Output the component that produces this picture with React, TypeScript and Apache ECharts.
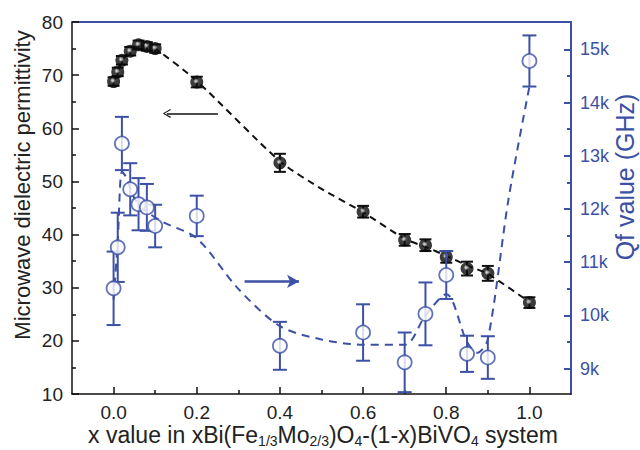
import React, { useEffect, useRef } from 'react';
import * as echarts from 'echarts';

const FONT = "'Liberation Sans', Arial, Helvetica, sans-serif";
const BLUE = '#3c50a5';
const BLACK = '#111111';

// Permittivity (left axis)
const xPerm = [0, 0.01, 0.02, 0.04, 0.06, 0.08, 0.1, 0.2, 0.4, 0.6, 0.7, 0.75, 0.8, 0.85, 0.9, 1.0];
const perm = [68.8, 70.6, 72.8, 74.5, 75.7, 75.4, 75.0, 68.7, 53.5, 44.3, 39.0, 38.0, 35.8, 33.6, 32.7, 27.2];
const permErr = [0.8, 0.8, 0.8, 0.8, 0.8, 0.8, 0.8, 1.0, 1.7, 1.1, 1.1, 1.1, 1.1, 1.3, 1.4, 1.0];

// Qf values (right axis)
const xQf = [0, 0.01, 0.02, 0.04, 0.06, 0.08, 0.1, 0.2, 0.4, 0.6, 0.7, 0.75, 0.8, 0.85, 0.9, 1.0];
const qf = [10510, 11280, 13230, 12370, 12090, 12030, 11680, 11870, 9430, 9680, 9120, 10030, 10760, 9280, 9210, 14780];
const qfErr = [690, 650, 500, 490, 490, 440, 400, 380, 450, 530, 560, 590, 450, 340, 400, 480];

// Dashed guide curves
const permFitX = [0, 0.01, 0.02, 0.04, 0.06, 0.08, 0.1, 0.2, 0.4, 0.5, 0.6, 0.7, 0.75, 0.8, 0.85, 0.9, 1.0];
const permFit = [68.8, 70.6, 72.7, 74.5, 75.4, 75.5, 75.0, 68.9, 53.8, 48.6, 44.2, 39.2, 37.7, 36.0, 34.2, 32.6, 27.3];
const qfFitX = [0, 0.01, 0.02, 0.03, 0.05, 0.08, 0.12, 0.2, 0.3, 0.4, 0.5, 0.6, 0.7, 0.75, 0.8, 0.85, 0.875, 0.9, 0.95, 1.0];
const qfFit = [10300, 11400, 12700, 12600, 12200, 11950, 11750, 11450, 10500, 9800, 9550, 9450, 9450, 10000, 10400, 9500, 9300, 9550, 12200, 14300];

// Ticks
const xTicks = [0, 0.2, 0.4, 0.6, 0.8, 1.0];
const xMinor = [0.1, 0.3, 0.5, 0.7, 0.9];
const qfTicks = [9000, 10000, 11000, 12000, 13000, 14000, 15000];
const qfMinor = [9500, 10500, 11500, 12500, 13500, 14500];

// Arrows
const blackArrow = { x1: 0.251, x2: 0.128, y: 62.8 };
const blueArrow = { x1: 0.315, x2: 0.446, y: 10640 };

const CHEVRON = 'path://M5,0 L10,10 L8.8,10.6 L5,2.4 L1.2,10.6 L0,10 Z';

function errRender(cap: number, color: string, width: number) {
  return (_params: any, api: any) => {
    const x = api.value(0);
    const lo = api.coord([x, api.value(1)]);
    const hi = api.coord([x, api.value(2)]);
    const st = { stroke: color, lineWidth: width };
    return {
      type: 'group',
      children: [
        { type: 'line', shape: { x1: lo[0], y1: lo[1], x2: hi[0], y2: hi[1] }, style: st },
        { type: 'line', shape: { x1: lo[0] - cap, y1: lo[1], x2: lo[0] + cap, y2: lo[1] }, style: st },
        { type: 'line', shape: { x1: hi[0] - cap, y1: hi[1], x2: hi[0] + cap, y2: hi[1] }, style: st },
      ],
    };
  };
}

export default function App() {
  const ref = useRef<HTMLDivElement>(null);
  useEffect(() => {
    if (!ref.current) return;
    const chart = echarts.init(ref.current, null, { renderer: 'svg' });
    const sphere = new echarts.graphic.RadialGradient(0.45, 0.42, 0.6, [
      { offset: 0, color: '#ffffff' },
      { offset: 0.15, color: '#bbbbbb' },
      { offset: 0.35, color: '#111111' },
      { offset: 1, color: '#000000' },
    ]);
    const noZero = { onZero: false };
    const option: any = {
      animation: false,
      backgroundColor: '#ffffff',
      grid: { left: 72, right: 69, top: 22, bottom: 56 },
      xAxis: [
        {
          type: 'value', min: -0.1, max: 1.1, position: 'bottom',
          axisLine: { show: true, ...noZero, lineStyle: { color: BLACK, width: 1.5 } },
          axisTick: { show: true, inside: true, length: 7, customValues: xTicks, lineStyle: { color: BLACK, width: 1.5 } },
          axisLabel: { customValues: xTicks, formatter: (v: number) => v.toFixed(1), fontSize: 19, color: '#222', margin: 9, fontFamily: FONT },
          splitLine: { show: false },
        },
        {
          type: 'value', min: -0.1, max: 1.1, position: 'bottom',
          axisLine: { show: false, ...noZero },
          axisTick: { show: true, inside: true, length: 4, customValues: xMinor, lineStyle: { color: BLACK, width: 1.5 } },
          axisLabel: { show: false },
          splitLine: { show: false },
        },
        {
          type: 'value', min: -0.1, max: 1.1, position: 'top',
          axisLine: { show: true, ...noZero, lineStyle: { color: BLUE, width: 2 } },
          axisTick: { show: false }, axisLabel: { show: false }, splitLine: { show: false },
        },
      ],
      yAxis: [
        {
          type: 'value', min: 10, max: 80, interval: 10, position: 'left',
          axisLine: { show: true, ...noZero, lineStyle: { color: BLACK, width: 1.5 } },
          axisTick: { show: true, inside: true, length: 7, lineStyle: { color: BLACK, width: 1.5 } },
          minorTick: { show: true, splitNumber: 2, length: 4, lineStyle: { color: BLACK, width: 1.5 } },
          axisLabel: { fontSize: 19, color: '#222', margin: 9, fontFamily: FONT },
          splitLine: { show: false },
        },
        {
          type: 'value', min: 8525, max: 15512, position: 'right',
          axisLine: { show: true, ...noZero, lineStyle: { color: BLUE, width: 2 } },
          axisTick: { show: true, inside: true, length: 7, customValues: qfTicks, lineStyle: { color: BLUE, width: 2 } },
          axisLabel: { customValues: qfTicks, formatter: (v: number) => v / 1000 + 'k', fontSize: 18, color: BLUE, margin: 9, fontFamily: FONT },
          splitLine: { show: false },
        },
        {
          type: 'value', min: 8525, max: 15512, position: 'right',
          axisLine: { show: false, ...noZero },
          axisTick: { show: true, inside: true, length: 4, customValues: qfMinor, lineStyle: { color: BLUE, width: 2 } },
          axisLabel: { show: false }, splitLine: { show: false },
        },
      ],
      graphic: [
        {
          type: 'text', x: 22, y: 185, rotation: Math.PI / 2,
          style: { text: 'Microwave dielectric permittivity', fontSize: 22, fill: '#222', fontFamily: FONT, align: 'center', verticalAlign: 'middle' },
        },
        {
          type: 'text', x: 625, y: 177, rotation: Math.PI / 2,
          style: { text: 'Qf value (GHz)', fontSize: 25, fill: BLUE, fontFamily: FONT, align: 'center', verticalAlign: 'middle' },
        },
        {
          type: 'text', x: 323, y: 435,
          style: {
            text: '{m|x value in xBi(Fe}{s|1/3}{m|Mo}{s|2/3}{m|)O}{s|4}{m|-(1-x)BiVO}{s|4}{m| system}',
            fontFamily: FONT, align: 'center', verticalAlign: 'middle', fill: '#222',
            rich: {
              m: { fontSize: 23, lineHeight: 26, fill: '#222', fontFamily: FONT },
              s: { fontSize: 14, lineHeight: 6, verticalAlign: 'bottom', fill: '#222', fontFamily: FONT },
            },
          },
        },
      ],
      series: [
        {
          type: 'line', xAxisIndex: 0, yAxisIndex: 0, z: 2,
          data: permFitX.map((x, i) => [x, permFit[i]]),
          showSymbol: false, smooth: 0.25, silent: true,
          lineStyle: { color: BLACK, width: 2, type: [7, 5] },
          markLine: {
            silent: true, symbol: ['none', CHEVRON], symbolSize: [9, 8],
            label: { show: false },
            lineStyle: { color: BLACK, width: 1.5, type: 'solid' },
            data: [[{ coord: [blackArrow.x1, blackArrow.y] }, { coord: [blackArrow.x2, blackArrow.y] }]],
          },
        },
        {
          type: 'line', xAxisIndex: 0, yAxisIndex: 1, z: 2,
          data: qfFitX.map((x, i) => [x, qfFit[i]]),
          showSymbol: false, smooth: 0.3, silent: true,
          lineStyle: { color: BLUE, width: 2, type: [8, 6] },
          markLine: {
            silent: true, symbol: ['none', 'arrow'], symbolSize: [10, 12],
            label: { show: false },
            lineStyle: { color: BLUE, width: 2.5, type: 'solid' },
            data: [[{ coord: [blueArrow.x1, blueArrow.y] }, { coord: [blueArrow.x2, blueArrow.y] }]],
          },
        },
        {
          type: 'custom', xAxisIndex: 0, yAxisIndex: 0, z: 3, silent: true,
          renderItem: errRender(6, BLACK, 2),
          encode: { x: 0, y: [1, 2] },
          data: xPerm.map((x, i) => [x, perm[i] - permErr[i], perm[i] + permErr[i]]),
        },
        {
          type: 'scatter', xAxisIndex: 0, yAxisIndex: 0, z: 4,
          symbol: 'circle', symbolSize: 13,
          itemStyle: { color: sphere },
          data: xPerm.map((x, i) => [x, perm[i]]),
        },
        {
          type: 'custom', xAxisIndex: 0, yAxisIndex: 1, z: 5, silent: true,
          renderItem: errRender(7, BLUE, 2),
          encode: { x: 0, y: [1, 2] },
          data: xQf.map((x, i) => [x, qf[i] - qfErr[i], qf[i] + qfErr[i]]),
        },
        {
          type: 'scatter', xAxisIndex: 0, yAxisIndex: 1, z: 6,
          symbol: 'circle', symbolSize: 14,
          itemStyle: { color: '#ffffff', borderColor: BLUE, borderWidth: 1.8 },
          data: xQf.map((x, i) => [x, qf[i]]),
        },
      ],
    };
    chart.setOption(option);
    return () => chart.dispose();
  }, []);
  return <div ref={ref} style={{ position: 'fixed', left: 0, top: 0, width: 640, height: 450, background: '#fff' }} />;
}
